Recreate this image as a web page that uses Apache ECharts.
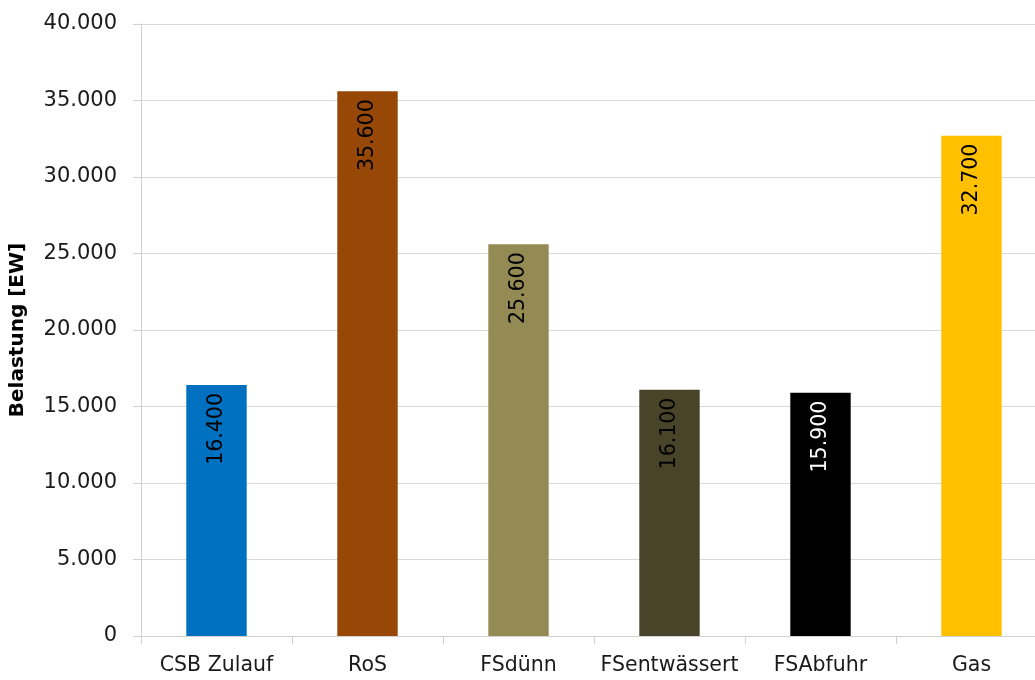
<!DOCTYPE html>
<html>
<head>
<meta charset="utf-8">
<script src="https://cdn.jsdelivr.net/npm/echarts@6/dist/echarts.min.js"></script>
<style>
  html, body { margin: 0; padding: 0; background: #fff; overflow: hidden; }
  #chart { width: 1050px; height: 680px; }
</style>
</head>
<body>
<div id="chart"></div>
<script>
// Belastung je Stoffstrom in Einwohnerwerten
const categories = ['CSB Zulauf', 'RoS', 'FSdünn', 'FSentwässert', 'FSAbfuhr', 'Gas'];
const values = [16400, 35600, 25600, 16100, 15900, 32700];
const barColors = ['#0070C0', '#974706', '#948A54', '#494429', '#000000', '#FFC000'];
const labelColors = ['#000', '#000', '#000', '#000', '#fff', '#000'];
const yTicks = { min: 0, max: 40000, interval: 5000 };

const fmt = v => {
  if (v === 0) return '0';
  const s = String(Math.round(v));
  return s.replace(/\B(?=(\d{3})+(?!\d))/g, '.');
};

const FONT = '"DejaVu Sans", sans-serif';
const chart = echarts.init(document.getElementById('chart'));
chart.setOption({
  animation: false,
  grid: { left: 140, right: 3, top: 24, bottom: 44, containLabel: false },
  xAxis: {
    type: 'category',
    data: categories,
    axisLine: { lineStyle: { color: '#d0d0d0', width: 1 } },
    axisTick: { show: true, interval: 0, length: 8, alignWithLabel: false, lineStyle: { color: '#d0d0d0' } },
    axisLabel: { interval: 0, color: '#1a1a1a', fontFamily: FONT, fontSize: 20.5, margin: 19 }
  },
  yAxis: {
    type: 'value',
    min: yTicks.min, max: yTicks.max, interval: yTicks.interval,
    name: 'Belastung [EW]',
    nameLocation: 'middle',
    nameGap: 113,
    nameTextStyle: { fontFamily: FONT, fontWeight: 'bold', fontSize: 20, color: '#000' },
    axisLine: { show: true, lineStyle: { color: '#d0d0d0', width: 1 } },
    axisTick: { show: true, length: 8, lineStyle: { color: '#d0d0d0' } },
    axisLabel: { color: '#1a1a1a', fontFamily: FONT, fontSize: 21, margin: 24, formatter: fmt },
    splitLine: { show: true, lineStyle: { color: '#d9d9d9', width: 1 } }
  },
  series: [{
    type: 'bar',
    barWidth: '40%',
    data: values.map((v, i) => ({
      value: v,
      itemStyle: { color: barColors[i] },
      label: { color: labelColors[i] }
    })),
    label: {
      show: true,
      position: 'insideTop',
      rotate: 90,
      align: 'right',
      verticalAlign: 'middle',
      distance: 8,
      fontFamily: FONT,
      fontSize: 20.5,
      formatter: p => fmt(p.value)
    }
  }]
});
</script>
</body>
</html>
